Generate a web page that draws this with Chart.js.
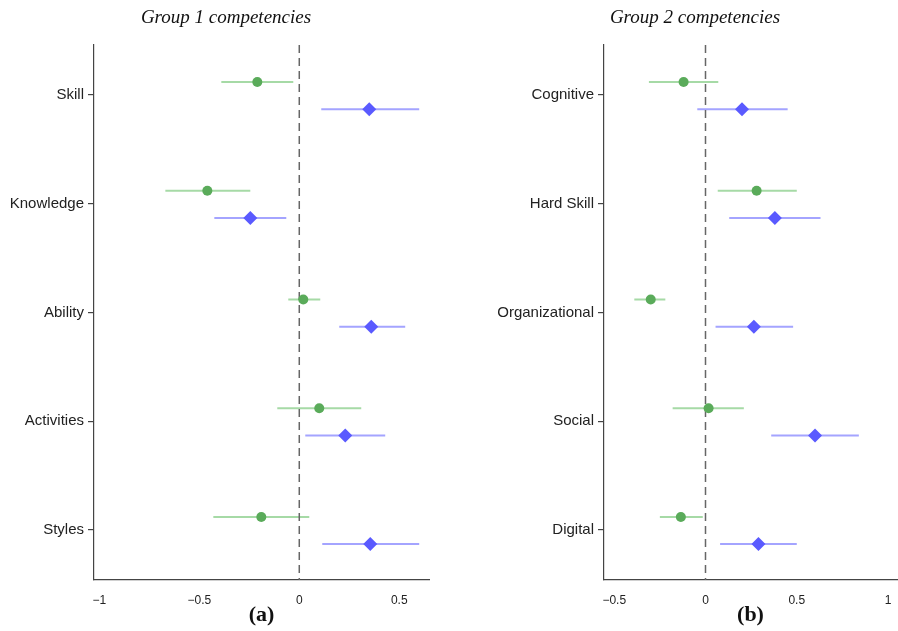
<!DOCTYPE html>
<html>
<head>
<meta charset="utf-8">
<script src="https://cdn.jsdelivr.net/npm/chart.js@4"></script>
<style>
  html, body { margin: 0; padding: 0; background: #fff; overflow: hidden; width: 898px; height: 631px; }
  .panel { position: absolute; top: 0; height: 631px; }
</style>
</head>
<body>
<div class="panel" style="left:0; width:449px"><canvas id="c1" width="449" height="631"></canvas></div>
<div class="panel" style="left:449px; width:470px"><canvas id="c2" width="470" height="631"></canvas></div>
<script>
// ---- Data ----
const categories1 = ['Skill', 'Knowledge', 'Ability', 'Activities', 'Styles'];
const green1Est = [-0.21, -0.46, 0.02, 0.10, -0.19];
const green1Lo  = [-0.39, -0.67, -0.055, -0.11, -0.43];
const green1Hi  = [-0.03, -0.245, 0.105, 0.31, 0.05];
const blue1Est  = [0.35, -0.245, 0.36, 0.23, 0.355];
const blue1Lo   = [0.11, -0.425, 0.20, 0.03, 0.115];
const blue1Hi   = [0.60, -0.065, 0.53, 0.43, 0.60];

const categories2 = ['Cognitive', 'Hard Skill', 'Organizational', 'Social', 'Digital'];
const green2Est = [-0.12, 0.28, -0.30, 0.017, -0.135];
const green2Lo  = [-0.31, 0.067, -0.39, -0.18, -0.25];
const green2Hi  = [0.07, 0.50, -0.22, 0.21, -0.015];
const blue2Est  = [0.20, 0.38, 0.265, 0.60, 0.29];
const blue2Lo   = [-0.045, 0.13, 0.055, 0.36, 0.08];
const blue2Hi   = [0.45, 0.63, 0.48, 0.84, 0.50];

const xTicks1 = [-1, -0.5, 0, 0.5];
const xTickLabels1 = ['\u22121', '\u22120.5', '0', '0.5'];
const xTicks2 = [-0.5, 0, 0.5, 1];
const xTickLabels2 = ['\u22120.5', '0', '0.5', '1'];

const titles = ['Group 1 competencies', 'Group 2 competencies'];
const panelLabels = ['(a)', '(b)'];

// ---- Styles ----
const GREEN_PT = '#5aab5a', GREEN_LN = '#a6daa6';
const BLUE_PT = '#5a5aff', BLUE_LN = '#a4a4ff';
const AXIS = '#444';
const OFF_G = -0.12, OFF_B = 0.13;
const YMIN = -0.46, YMAX = 4.46;

function points(est, off) { return est.map((v, i) => ({ x: v, y: i + off })); }
function segs(lo, hi, off) {
  const d = [];
  lo.forEach((v, i) => { d.push({ x: v, y: i + off }, { x: hi[i], y: i + off }, { x: null, y: null }); });
  return d;
}

function makeChart(id, cats, gE, gL, gH, bE, bL, bH, xmin, xmax, xt, xtl, title, titleX, plabel, padRight, yWidth) {
  const decor = {
    id: 'decor',
    afterDraw(chart) {
      const ctx = chart.ctx, a = chart.chartArea;
      ctx.save();
      ctx.fillStyle = '#111';
      ctx.textAlign = 'center';
      ctx.textBaseline = 'alphabetic';
      ctx.font = 'italic 19px "Liberation Serif", serif';
      ctx.fillText(title, titleX, 23);
      ctx.font = 'bold 22px "Liberation Serif", serif';
      ctx.fillText(plabel, (a.left + a.right) / 2, 621);
      ctx.restore();
    }
  };
  return new Chart(document.getElementById(id), {
    type: 'scatter',
    data: {
      datasets: [
        { data: points(gE, OFF_G), pointStyle: 'circle', pointRadius: 5, backgroundColor: GREEN_PT, borderColor: GREEN_PT, borderWidth: 0, order: 1 },
        { data: points(bE, OFF_B), pointStyle: 'rectRot', pointRadius: 7, backgroundColor: BLUE_PT, borderColor: BLUE_PT, borderWidth: 0, order: 1 },
        { data: [{ x: 0, y: YMIN }, { x: 0, y: YMAX }], showLine: true, pointRadius: 0, borderColor: '#666', borderWidth: 1.5, borderDash: [8, 5], order: 2 },
        { data: segs(gL, gH, OFF_G), showLine: true, spanGaps: false, pointRadius: 0, borderColor: GREEN_LN, borderWidth: 2, order: 3 },
        { data: segs(bL, bH, OFF_B), showLine: true, spanGaps: false, pointRadius: 0, borderColor: BLUE_LN, borderWidth: 2, order: 3 }
      ]
    },
    options: {
      responsive: false,
      animation: false,
      events: [],
      layout: { padding: { top: 45, right: padRight, left: 0, bottom: 0 } },
      plugins: { legend: { display: false }, tooltip: { enabled: false }, title: { display: false } },
      scales: {
        x: {
          type: 'linear', min: xmin, max: xmax,
          afterBuildTicks: s => { s.ticks = xt.map(v => ({ value: v })); },
          afterFit: s => { s.height = 51; s.paddingLeft = 0; s.paddingRight = 0; },
          grid: { display: false },
          border: { display: true, color: AXIS, width: 1.2 },
          ticks: { padding: 5, color: '#222', maxRotation: 0, font: { family: '"Liberation Sans", Arial, sans-serif', size: 12 },
                   callback: v => { const k = xt.indexOf(v); return k >= 0 ? xtl[k] : ''; } }
        },
        y: {
          type: 'linear', min: YMIN, max: YMAX, reverse: true,
          afterBuildTicks: s => { s.ticks = cats.map((_, i) => ({ value: i })); },
          afterFit: s => { s.width = yWidth; s.paddingTop = 0; s.paddingBottom = 0; },
          grid: { display: true, drawOnChartArea: false, drawTicks: true, tickLength: 6, color: AXIS, lineWidth: 1.2 },
          border: { display: true, color: AXIS, width: 1.2 },
          ticks: { padding: 4, color: '#222', autoSkip: false, font: { family: '"Liberation Sans", Arial, sans-serif', size: 15 },
                   callback: v => cats[v] !== undefined ? cats[v] : '' }
        }
      }
    },
    plugins: [decor]
  });
}

makeChart('c1', categories1, green1Est, green1Lo, green1Hi, blue1Est, blue1Lo, blue1Hi,
  -1.027, 0.649, xTicks1, xTickLabels1, titles[0], 226, panelLabels[0], 20, 94);
makeChart('c2', categories2, green2Est, green2Lo, green2Hi, blue2Est, blue2Lo, blue2Hi,
  -0.556, 1.049, xTicks2, xTickLabels2, titles[1], 246, panelLabels[1], 22, 155);
</script>
</body>
</html>
